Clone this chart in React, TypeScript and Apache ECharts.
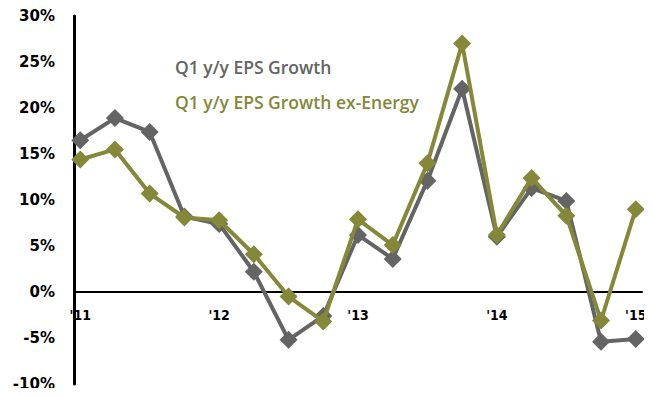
import React, { useEffect, useRef } from "react";
import * as echarts from "echarts";

// Quarterly year-over-year EPS growth, Q1 2011 through Q1 2015 (percent)
const quarters = [
  "Q1 11", "Q2 11", "Q3 11", "Q4 11",
  "Q1 12", "Q2 12", "Q3 12", "Q4 12",
  "Q1 13", "Q2 13", "Q3 13", "Q4 13",
  "Q1 14", "Q2 14", "Q3 14", "Q4 14",
  "Q1 15",
];
const epsGrowth = [16.5, 18.9, 17.4, 8.2, 7.4, 2.2, -5.2, -2.6, 6.2, 3.6, 12.1, 22.1, 6.0, 11.3, 9.9, -5.4, -5.1];
const epsGrowthExEnergy = [14.4, 15.5, 10.7, 8.1, 7.8, 4.1, -0.5, -3.2, 7.9, 5.1, 14.0, 27.0, 6.2, 12.4, 8.3, -3.1, 9.0];
const yearLabels = ["'11", "'12", "'13", "'14", "'15"];
const yearTickIndex = [0, 4, 8, 12, 16];
const yTicks = [-10, -5, 0, 5, 10, 15, 20, 25, 30];

const GRAY = "#646464";
const OLIVE = "#848838";

const GRID_TOP = 16;
const GRID_BOTTOM = 12;
const CHART_H = 396;

export default function App() {
  const ref = useRef<HTMLDivElement>(null);

  useEffect(() => {
    if (!ref.current) return;
    const chart = echarts.init(ref.current, undefined, { renderer: "svg" });
    const pts = (vals: number[]) => vals.map((v, i) => [i, v]);
    const yMin = yTicks[0];
    const yMax = yTicks[yTicks.length - 1];
    // shift the bottom x axis up so that it runs along the 0% line
    const plotH = CHART_H - GRID_TOP - GRID_BOTTOM;
    const zeroOffset = -((0 - yMin) / (yMax - yMin)) * plotH;
    chart.setOption({
      animation: false,
      backgroundColor: "#ffffff",
      grid: {
        left: 74,
        right: 10,
        top: GRID_TOP,
        bottom: GRID_BOTTOM,
        containLabel: false,
        outerBoundsMode: "none",
      },
      xAxis: {
        type: "value",
        position: "bottom",
        offset: zeroOffset,
        min: -0.18,
        max: quarters.length - 1 + 0.18,
        axisLine: { show: true, onZero: false, lineStyle: { color: "#000", width: 2 } },
        axisTick: { show: false },
        splitLine: { show: false },
        axisLabel: {
          customValues: yearTickIndex,
          formatter: (v: number) => yearLabels[yearTickIndex.indexOf(Math.round(v))] ?? "",
          margin: 16,
          color: "#000",
          fontFamily: "DejaVu Sans Condensed",
          fontWeight: "bold",
          fontSize: 14,
        },
      },
      yAxis: {
        type: "value",
        min: yMin,
        max: yMax,
        interval: 5,
        axisLine: { show: true, onZero: false, lineStyle: { color: "#000", width: 3 } },
        axisTick: { show: false },
        splitLine: { show: false },
        axisLabel: {
          formatter: (v: number) => `${v}%`,
          margin: 19,
          color: "#000",
          fontFamily: "DejaVu Sans",
          fontWeight: "bold",
          fontSize: 15,
        },
      },
      series: [
        {
          name: "Q1 y/y EPS Growth",
          type: "line",
          data: pts(epsGrowth),
          symbol: "diamond",
          symbolSize: 18,
          lineStyle: { color: GRAY, width: 4 },
          itemStyle: { color: GRAY },
          z: 2,
        },
        {
          name: "Q1 y/y EPS Growth ex-Energy",
          type: "line",
          data: pts(epsGrowthExEnergy),
          symbol: "diamond",
          symbolSize: 18,
          lineStyle: { color: OLIVE, width: 4 },
          itemStyle: { color: OLIVE },
          z: 3,
        },
      ],
      graphic: [
        {
          type: "text",
          left: 175,
          top: 58,
          style: {
            text: "Q1 y/y EPS Growth",
            fill: GRAY,
            font: "600 17.5px 'Open Sans'",
          },
        },
        {
          type: "text",
          left: 175,
          top: 93,
          style: {
            text: "Q1 y/y EPS Growth ex-Energy",
            fill: OLIVE,
            font: "600 17.5px 'Open Sans'",
          },
        },
        {
          type: "rect",
          left: 439,
          top: 393,
          shape: { width: 10, height: 3 },
          style: { fill: OLIVE },
        },
      ],
    });
    return () => chart.dispose();
  }, []);

  return <div ref={ref} style={{ width: 652, height: CHART_H, margin: -8 }} />;
}
